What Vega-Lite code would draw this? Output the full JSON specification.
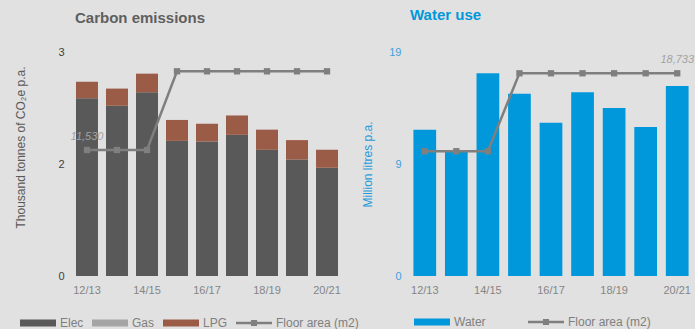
{
  "$schema": "https://vega.github.io/schema/vega-lite/v6.json",
  "background": "#e1e1e1",
  "padding": {"left": 14, "top": 8, "right": 0, "bottom": 0},
  "spacing": 2,
  "config": {
    "font": "Liberation Sans",
    "view": {"stroke": null},
    "axis": {"domain": false, "ticks": false, "tickSize": 0, "grid": false, "titleFontWeight": "normal"},
    "axisX": {"labelAngle": 0, "labelFontSize": 11, "labelColor": "#858585", "labelPadding": 8, "title": null},
    "axisY": {"labelFontSize": 11, "labelPadding": 8},
    "legend": {"orient": "none", "direction": "horizontal", "title": null, "symbolSize": 1296, "symbolStrokeWidth": 0, "labelFontSize": 12, "labelColor": "#7f7f7f", "labelOffset": 4},
    "title": {"anchor": "start", "frame": "group", "fontSize": 15, "fontWeight": "bold"}
  },
  "resolve": {"scale": {"color": "independent"}, "legend": {"color": "independent"}},
  "datasets": {
    "carbon": [
      {"year": "12/13", "source": "Elec", "kt": 2.38}, {"year": "12/13", "source": "Gas", "kt": 0}, {"year": "12/13", "source": "LPG", "kt": 0.22},
      {"year": "13/14", "source": "Elec", "kt": 2.28}, {"year": "13/14", "source": "Gas", "kt": 0}, {"year": "13/14", "source": "LPG", "kt": 0.23},
      {"year": "14/15", "source": "Elec", "kt": 2.46}, {"year": "14/15", "source": "Gas", "kt": 0}, {"year": "14/15", "source": "LPG", "kt": 0.25},
      {"year": "15/16", "source": "Elec", "kt": 1.81}, {"year": "15/16", "source": "Gas", "kt": 0}, {"year": "15/16", "source": "LPG", "kt": 0.28},
      {"year": "16/17", "source": "Elec", "kt": 1.80}, {"year": "16/17", "source": "Gas", "kt": 0}, {"year": "16/17", "source": "LPG", "kt": 0.24},
      {"year": "17/18", "source": "Elec", "kt": 1.89}, {"year": "17/18", "source": "Gas", "kt": 0}, {"year": "17/18", "source": "LPG", "kt": 0.26},
      {"year": "18/19", "source": "Elec", "kt": 1.69}, {"year": "18/19", "source": "Gas", "kt": 0}, {"year": "18/19", "source": "LPG", "kt": 0.27},
      {"year": "19/20", "source": "Elec", "kt": 1.56}, {"year": "19/20", "source": "Gas", "kt": 0}, {"year": "19/20", "source": "LPG", "kt": 0.26},
      {"year": "20/21", "source": "Elec", "kt": 1.45}, {"year": "20/21", "source": "Gas", "kt": 0}, {"year": "20/21", "source": "LPG", "kt": 0.24}
    ],
    "water": [
      {"year": "12/13", "use": "Water", "ml": 12.33},
      {"year": "13/14", "use": "Water", "ml": 10.5},
      {"year": "14/15", "use": "Water", "ml": 17.1},
      {"year": "15/16", "use": "Water", "ml": 15.37},
      {"year": "16/17", "use": "Water", "ml": 12.92},
      {"year": "17/18", "use": "Water", "ml": 15.51},
      {"year": "18/19", "use": "Water", "ml": 14.18},
      {"year": "19/20", "use": "Water", "ml": 12.58},
      {"year": "20/21", "use": "Water", "ml": 16.04}
    ],
    "floor": [
      {"year": "12/13", "area": 11530},
      {"year": "13/14", "area": 11530},
      {"year": "14/15", "area": 11530},
      {"year": "15/16", "area": 18733},
      {"year": "16/17", "area": 18733},
      {"year": "17/18", "area": 18733},
      {"year": "18/19", "area": 18733},
      {"year": "19/20", "area": 18733},
      {"year": "20/21", "area": 18733}
    ]
  },
  "hconcat": [
    {
      "width": 270,
      "height": 224,
      "title": {"text": "Carbon emissions", "color": "#5f5f5f", "dx": 3, "offset": 20},
      "layer": [
        {
          "data": {"name": "carbon"},
          "mark": {"type": "bar"},
          "encoding": {
            "x": {"field": "year", "type": "ordinal", "scale": {"paddingInner": 0.267, "paddingOuter": 0.133},
                  "axis": {"values": ["12/13", "14/15", "16/17", "18/19", "20/21"]}},
            "y": {"field": "kt", "type": "quantitative", "stack": "zero", "scale": {"domain": [0, 3]},
                  "axis": {"values": [0, 1.5, 3], "format": ".0f", "labelColor": "#404040",
                           "title": "Thousand tonnes of CO₂e p.a.", "titleColor": "#595959", "titleFontSize": 12, "titlePadding": 30, "titleY": 95}},
            "order": {"field": "source", "type": "nominal", "sort": "ascending"},
            "color": {"field": "source", "type": "nominal",
                      "scale": {"domain": ["Elec", "Gas", "LPG", "Floor area (m2)"], "range": ["#595959", "#a5a5a5", "#9b5c47", "#7f7f7f"]},
                      "legend": {"legendX": -52, "legendY": 253, "columnPadding": 8,
                                 "encode": {"symbols": {"update": {"shape": {"signal": "datum.value === 'Floor area (m2)' ? 'M-1,-0.07H1V0.07H-1Z M-0.17,-0.17H0.17V0.17H-0.17Z' : 'M-1,-0.2H1V0.2H-1Z'"}}}}}}
          }
        },
        {
          "data": {"name": "floor"},
          "mark": {"type": "line", "color": "#7f7f7f", "strokeWidth": 2.5,
                   "point": {"shape": "square", "size": 40, "color": "#7f7f7f", "filled": true}},
          "encoding": {
            "x": {"field": "year", "type": "ordinal"},
            "y": {"field": "area", "type": "quantitative", "scale": {"domain": [0, 20500]}, "axis": null}
          }
        },
        {
          "data": {"name": "floor"},
          "transform": [{"filter": "datum.year === '12/13'"}],
          "mark": {"type": "text", "fontStyle": "italic", "fontSize": 11, "color": "#a3a3a3", "baseline": "bottom", "dy": -8},
          "encoding": {
            "x": {"field": "year", "type": "ordinal"},
            "y": {"field": "area", "type": "quantitative", "scale": {"domain": [0, 20500]}, "axis": null},
            "text": {"field": "area", "type": "quantitative", "format": ","}
          }
        }
      ],
      "resolve": {"scale": {"y": "independent"}}
    },
    {
      "width": 284,
      "height": 224,
      "title": {"text": "Water use", "color": "#0098da", "dx": 1, "offset": 23},
      "layer": [
        {
          "data": {"name": "water"},
          "mark": {"type": "bar"},
          "encoding": {
            "x": {"field": "year", "type": "ordinal", "scale": {"paddingInner": 0.28, "paddingOuter": 0.14},
                  "axis": {"values": ["12/13", "14/15", "16/17", "18/19", "20/21"]}},
            "y": {"field": "ml", "type": "quantitative", "scale": {"domain": [0, 18.9]},
                  "axis": {"values": [0, 9.45, 18.9], "format": ".0f", "labelColor": "#3da2dd",
                           "title": "Million litres p.a.", "titleColor": "#1f9bdb", "titleFontSize": 12, "titlePadding": 14}},
            "color": {"field": "use", "type": "nominal",
                      "scale": {"domain": ["Water", "Floor area (m2)"], "range": ["#0098da", "#7f7f7f"]},
                      "legend": {"legendX": 5, "legendY": 252, "columnPadding": 42,
                                 "encode": {"symbols": {"update": {"shape": {"signal": "datum.value === 'Floor area (m2)' ? 'M-1,-0.07H1V0.07H-1Z M-0.17,-0.17H0.17V0.17H-0.17Z' : 'M-1,-0.2H1V0.2H-1Z'"}}}}}}
          }
        },
        {
          "data": {"name": "floor"},
          "mark": {"type": "line", "color": "#7f7f7f", "strokeWidth": 2.5,
                   "point": {"shape": "square", "size": 40, "color": "#7f7f7f", "filled": true}},
          "encoding": {
            "x": {"field": "year", "type": "ordinal"},
            "y": {"field": "area", "type": "quantitative", "scale": {"domain": [0, 20700]}, "axis": null}
          }
        },
        {
          "data": {"name": "floor"},
          "transform": [{"filter": "datum.year === '20/21'"}],
          "mark": {"type": "text", "fontStyle": "italic", "fontSize": 11, "color": "#a3a3a3", "baseline": "bottom", "dy": -8},
          "encoding": {
            "x": {"field": "year", "type": "ordinal"},
            "y": {"field": "area", "type": "quantitative", "scale": {"domain": [0, 20700]}, "axis": null},
            "text": {"field": "area", "type": "quantitative", "format": ","}
          }
        }
      ],
      "resolve": {"scale": {"y": "independent"}}
    }
  ]
}
